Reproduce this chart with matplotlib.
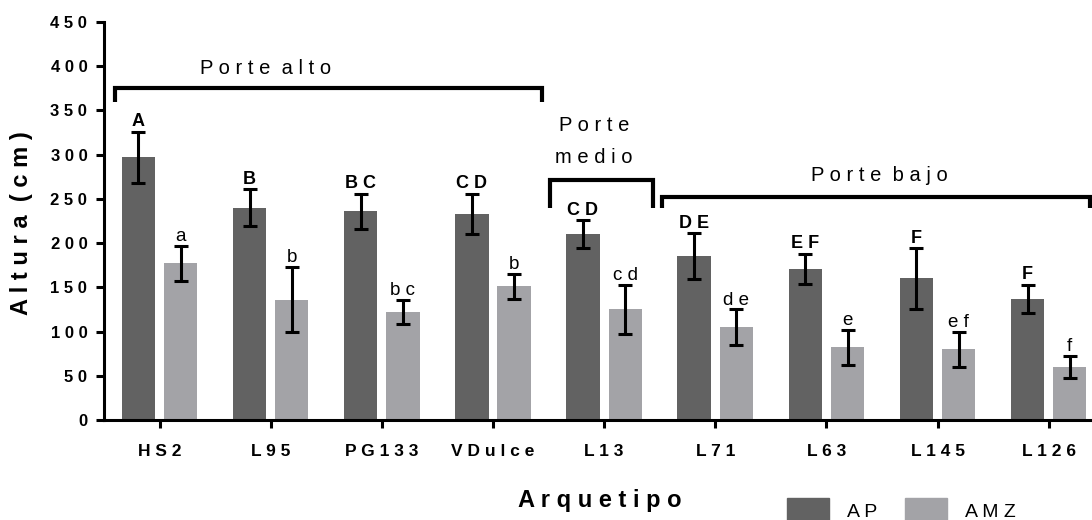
import matplotlib
matplotlib.use('Agg')
import matplotlib.pyplot as plt
from matplotlib.patches import Patch
import numpy as np

plt.rcParams['font.family'] = ['Liberation Sans', 'DejaVu Sans']

# data
archetypes = ['HS2', 'L95', 'PG133', 'VDulce', 'L13', 'L71', 'L63', 'L145', 'L126']
ap_mean = [297, 240, 236, 233, 210, 185, 171, 160, 137]
ap_err = [29, 21, 20, 23, 16, 26, 17, 34, 16]
amz_mean = [177, 136, 122, 151, 125, 105, 82, 80, 60]
amz_err = [20, 37, 14, 14, 28, 20, 20, 20, 12]
ap_letters = ['A', 'B', 'B C', 'C D', 'C D', 'D E', 'E F', 'F', 'F']
amz_letters = ['a', 'b', 'b c', 'b', 'c d', 'd e', 'e', 'e f', 'f']

# brackets: (label lines, x start, x end, top y, end y, text x, text y)
brackets = [
    (['Porte alto'], -0.405, 3.44, 375, 359, 0.955, [397]),
    (['Porte', 'medio'], 3.51, 4.44, 271, 240, 3.91, [333, 297]),
    (['Porte bajo'], 4.52, 8.37, 252, 240, 6.48, [276]),
]

AP_COLOR = '#626262'
AMZ_COLOR = '#a3a3a7'


def spaced(s):
    """letter-spaced text: spaces between letters, double space between words"""
    return '  '.join(' '.join(w) for w in s.split(' '))


def main():
    fig = plt.figure(figsize=(10.92, 5.2), dpi=100)
    ax = fig.add_axes([104 / 1092, 1 - 420 / 520, 1 - 104 / 1092, (420 - 22) / 520])

    x = np.arange(len(archetypes))
    width = 0.30
    off = 0.19
    ekw = dict(elinewidth=2.2, capthick=2.2, capsize=5, ecolor='black')
    ax.bar(x - off, ap_mean, width, color=AP_COLOR, yerr=ap_err, error_kw=ekw, zorder=2)
    ax.bar(x + off, amz_mean, width, color=AMZ_COLOR, yerr=amz_err, error_kw=ekw, zorder=2)

    # significance letters
    for i in range(len(archetypes)):
        ax.annotate(ap_letters[i], (x[i] - off, ap_mean[i] + ap_err[i]),
                    xytext=(0, 4), textcoords='offset points', ha='center',
                    va='baseline', fontsize=13, fontweight='bold')
        ax.annotate(amz_letters[i], (x[i] + off, amz_mean[i] + amz_err[i]),
                    xytext=(0, 3.5), textcoords='offset points', ha='center',
                    va='baseline', fontsize=13.5)

    # brackets grouping archetypes
    for lines, x0, x1, ytop, yend, tx, tys in brackets:
        ax.plot([x0, x0, x1, x1], [yend, ytop, ytop, yend], color='black',
                lw=3, clip_on=False, solid_joinstyle='miter', solid_capstyle='butt')
        for line, ty in zip(lines, tys):
            ax.text(tx, ty, spaced(line), ha='center', va='center', fontsize=14.5)

    ax.set_xlim(-0.5, 8.39)
    ax.set_ylim(0, 450)
    ax.set_yticks(np.arange(0, 451, 50))
    ax.set_xticks(x)
    ax.set_xticklabels([spaced(a) for a in archetypes], fontweight='bold', fontsize=12.5)
    ax.set_yticklabels([spaced(str(v)) for v in range(0, 451, 50)], fontweight='bold', fontsize=12)

    for s in ['top', 'right']:
        ax.spines[s].set_visible(False)
    for s in ['left', 'bottom']:
        ax.spines[s].set_linewidth(2.2)
    ax.tick_params(axis='both', direction='out', length=6, width=2.2)
    ax.tick_params(axis='x', pad=11.5)
    ax.tick_params(axis='y', pad=6)

    fig.text(22 / 1092, 1 - 223 / 520, spaced('Altura (cm)'), rotation=90,
             ha='center', va='center', fontsize=17, fontweight='bold')
    fig.text(600 / 1092, 1 - 500 / 520, spaced('Arquetipo'),
             ha='center', va='center', fontsize=17, fontweight='bold')

    handles = [Patch(color=AP_COLOR), Patch(color=AMZ_COLOR)]
    fig.legend(handles, [spaced('AP'), spaced('AMZ')], loc='upper left',
               bbox_to_anchor=(787 / 1092, 1 - 498 / 520), ncol=2, frameon=False,
               fontsize=14, handlelength=2.16, handleheight=1.6, handletextpad=0.93,
               columnspacing=1.44, borderpad=0, borderaxespad=0)

    fig.savefig('out.png', dpi=100)
    plt.close(fig)


if __name__ == '__main__':
    main()
